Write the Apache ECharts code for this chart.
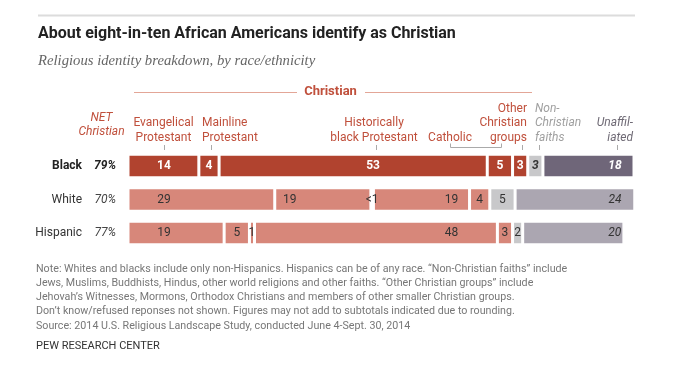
<!DOCTYPE html>
<html><head><meta charset="utf-8">
<script src="https://cdn.jsdelivr.net/npm/echarts@6/dist/echarts.min.js"></script>
<style>html,body{margin:0;padding:0;background:#fff}#c{width:700px;height:380px}</style>
</head><body><div id="c"></div>
<script>
// ---- data ----
const categories = ['Black', 'White', 'Hispanic'];
const netChristian = ['79%', '70%', '77%'];
const evangelical = [14, 29, 19];
const mainline = [4, 19, 5];
const histBlack = [53, 0.5, 1];      // White shown as "<1"
const catholic = [5, 19, 48];
const otherChristian = [3, 4, 3];
const nonChristian = [3, 5, 2];
const unaffiliated = [18, 24, 20];

// ---- styles ----
const DARK_RED = '#b1432f', SALMON = '#d7877a', LGRAY = '#c8c8ca', DPURP = '#6f6679', LPURP = '#aba6b1';
const HEAD_RED = '#c0503c';
const FONT = 'Roboto, "Liberation Sans", sans-serif';

const seriesDefs = [
  {name:'Evangelical Protestant', data:evangelical, colors:[DARK_RED,SALMON,SALMON], place:[36,36,36]},
  {name:'Mainline Protestant', data:mainline, colors:[DARK_RED,SALMON,SALMON], place:['inside',15,'inside']},
  {name:'Historically black Protestant', data:histBlack, colors:[DARK_RED,SALMON,SALMON], place:[154,'inside','inside']},
  {name:'Catholic', data:catholic, colors:[DARK_RED,SALMON,SALMON], place:['inside',78,197]},
  {name:'Other Christian groups', data:otherChristian, colors:[DARK_RED,SALMON,SALMON], place:['inside','inside','inside']},
  {name:'Non-Christian faiths', data:nonChristian, colors:[LGRAY,LGRAY,LGRAY], place:['inside','inside','inside'], dark:true},
  {name:'Unaffiliated', data:unaffiliated, colors:[DPURP,LPURP,LPURP], place:[72,100,92], italic:true}
];

function labelFor(def, i) {
  const p = def.place[i];
  const lab = {
    show: true,
    fontFamily: FONT,
    fontSize: 12,
    formatter: function (o) { return o.value < 1 ? '<1' : String(o.value); }
  };
  if (p === 'inside') { lab.position = 'inside'; }
  else { lab.position = [p, '50%']; lab.align = 'center'; lab.verticalAlign = 'middle'; }
  if (i === 0) {
    if (def.dark) { lab.color = '#333'; lab.fontWeight = 'bold'; lab.fontStyle = 'italic'; }
    else { lab.color = '#fff'; lab.fontWeight = 'bold'; }
  } else { lab.color = '#333'; }
  if (def.italic) lab.fontStyle = 'italic';
  return lab;
}

const series = seriesDefs.map(function (def) {
  return {
    name: def.name, type: 'bar', stack: 'all', barWidth: 23.5,
    data: def.data.map(function (v, i) {
      return { value: v, itemStyle: { color: def.colors[i] }, label: labelFor(def, i) };
    }),
    itemStyle: { borderColor: '#fff', borderWidth: 1.5 },
    emphasis: { disabled: true },
    animation: false
  };
});

function txt(x, y, text, opt) {
  return { type: 'text', x: x, y: y, silent: true, style: Object.assign({
    text: text, fontFamily: FONT, fontSize: 12, fill: HEAD_RED, lineHeight: 14.5,
    align: 'left', verticalAlign: 'top' }, opt || {}) };
}
function line(x1, y1, x2, y2, color, w) {
  return { type: 'line', silent: true, shape: {x1:x1,y1:y1,x2:x2,y2:y2}, style: {stroke: color, lineWidth: w || 1} };
}
const TICK = '#aaa';
const graphics = [
  line(38, 15.5, 635, 15.5, '#dcdcdc', 2),
  txt(38, 34, 'About eight-in-ten African Americans identify as Christian', {fontSize: 16, fontWeight: 'bold', fill: '#222', verticalAlign: 'middle'}),
  txt(38, 61, 'Religious identity breakdown, by race/ethnicity', {fontSize: 14.7, fontStyle: 'italic', fill: '#666', fontFamily: '"Liberation Serif", "DejaVu Serif", serif', verticalAlign: 'middle'}),
  // Christian header
  line(134, 92.5, 297, 92.5, '#e3a697', 1),
  txt(330.5, 92, 'Christian', {fontSize: 13, fontWeight: 'bold', align: 'center', verticalAlign: 'middle'}),
  line(365, 92.5, 532, 92.5, '#e3a697', 1),
  // column headers
  txt(101.5, 110.5, 'NET\nChristian', {fontStyle: 'italic', align: 'center'}),
  txt(163.5, 115.75, 'Evangelical\nProtestant', {align: 'center'}),
  txt(202, 115.75, 'Mainline\nProtestant', {align: 'left'}),
  txt(374, 115.75, 'Historically\nblack Protestant', {align: 'center'}),
  txt(450, 130.25, 'Catholic', {align: 'center'}),
  txt(527, 101.25, 'Other\nChristian\ngroups', {align: 'right'}),
  txt(535, 101.25, 'Non-\nChristian\nfaiths', {align: 'left', fill: '#a0a0a0', fontStyle: 'italic'}),
  txt(633, 115.75, 'Unaffil-\niated', {align: 'right', fill: '#6f6a75', fontStyle: 'italic'}),
  // ticks
  line(164.5, 145, 164.5, 150, TICK), line(211.5, 145, 211.5, 150, TICK), line(376.5, 145, 376.5, 150, TICK),
  line(522.5, 145, 522.5, 150, TICK), line(539.5, 145, 539.5, 150, TICK), line(617.5, 145, 617.5, 150, TICK),
  // catholic bracket
  { type: 'polyline', silent: true, shape: { points: [[450.5,143.5],[450.5,147.5],[501.5,147.5],[501.5,143.5]] }, style: { stroke: TICK, fill: null, lineWidth: 1 } },
  // notes
  txt(36, 262, 'Note: Whites and blacks include only non-Hispanics. Hispanics can be of any race. \u201cNon-Christian faiths\u201d include\nJews, Muslims, Buddhists, Hindus, other world religions and other faiths. \u201cOther Christian groups\u201d include\nJehovah\u2019s Witnesses, Mormons, Orthodox Christians and members of other smaller Christian groups.\nDon\u2019t know/refused reponses not shown. Figures may not add to subtotals indicated due to rounding.\nSource: 2014 U.S. Religious Landscape Study, conducted June 4-Sept. 30, 2014', {fontSize: 10.7, fill: '#777', lineHeight: 14.2}),
  txt(36, 346, 'PEW RESEARCH CENTER', {fontSize: 11, fill: '#333', verticalAlign: 'middle'})
];

const chart = echarts.init(document.getElementById('c'), null, {renderer: 'canvas'});
chart.setOption({
  animation: false,
  backgroundColor: '#fff',
  grid: { left: 128, width: 506, top: 149.25, height: 100.5, containLabel: false },
  xAxis: { type: 'value', min: 0, max: 100, show: false },
  yAxis: {
    type: 'category', data: categories, inverse: true,
    axisLine: { show: false }, axisTick: { show: false }, splitLine: { show: false },
    axisLabel: {
      margin: 12, fontFamily: FONT, fontSize: 12, color: '#333',
      formatter: function (v, i) {
        return i === 0 ? '{nb|' + v + '}{pb|' + netChristian[i] + '}' : '{n|' + v + '}{p|' + netChristian[i] + '}';
      },
      rich: {
        n: { fontFamily: FONT, fontSize: 12, color: '#333' },
        nb: { fontFamily: FONT, fontSize: 12, color: '#222', fontWeight: 'bold' },
        p: { fontFamily: FONT, fontSize: 12, color: '#444', fontStyle: 'italic', width: 34, align: 'right' },
        pb: { fontFamily: FONT, fontSize: 12, color: '#222', fontStyle: 'italic', fontWeight: 'bold', width: 34, align: 'right' }
      }
    }
  },
  series: series,
  graphic: graphics
});
</script></body></html>
